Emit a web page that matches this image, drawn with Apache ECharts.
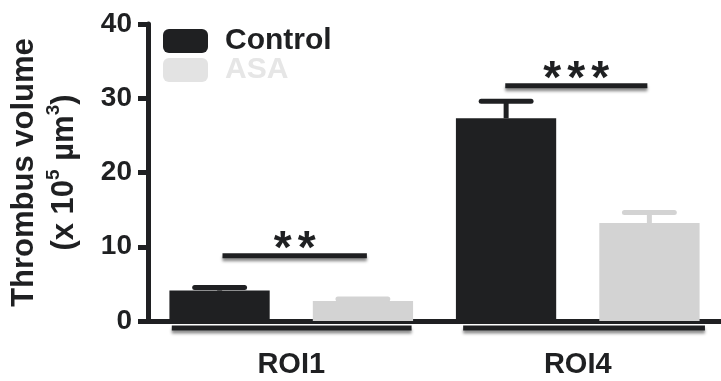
<!DOCTYPE html>
<html><head><meta charset="utf-8">
<script src="https://cdn.jsdelivr.net/npm/echarts@6/dist/echarts.min.js"></script>
<style>html,body{margin:0;padding:0;background:#fff}#c{width:721px;height:381px}</style>
</head><body><div id="c"></div>
<script>
const categories = ['ROI1', 'ROI4'];
const seriesNames = ['Control', 'ASA'];
const controlMean = [4.1, 27.3];
const controlSem = [0.4, 2.3];
const asaMean = [2.7, 13.2];
const asaSem = [0.25, 1.4];
const yTicks = [0, 10, 20, 30, 40];
// significance brackets: [start, end] in category units (0..2), height in y units
const sigStart = [0.26, 1.247];
const sigEnd = [0.764, 1.743];
const sigHeight = [8.8, 31.7];
const sigStars = [2, 3];
// group underlines below axis
const grpStart = [0.083, 1.10];
const grpEnd = [0.92, 1.944];
const grpLevel = [-0.95, -0.95];

const cDark = '#1f2022', cLight = '#d3d3d3';
const FONT = 'Liberation Sans, Arial, sans-serif';

const chart = echarts.init(document.getElementById('c'));

function errItem(color, offset) {
  return function (params, api) {
    const ci = api.value(0), m = api.value(1), e = api.value(2);
    const b = api.coord([ci, m]), t = api.coord([ci, m + e]);
    const band = api.size([1, 0])[0];
    const x = b[0] + offset * band;
    const cw = band * 0.174;
    return { type: 'group', children: [
      { type: 'line', shape: { x1: x, y1: b[1], x2: x, y2: t[1] }, style: { stroke: color, lineWidth: 5 } },
      { type: 'line', shape: { x1: x - cw / 2, y1: t[1], x2: x + cw / 2, y2: t[1] }, style: { stroke: color, lineWidth: 5, lineCap: 'round' } }
    ]};
  };
}

const shadow = { shadowBlur: 3, shadowColor: 'rgba(0,0,0,0.45)', shadowOffsetY: 3 };

chart.setOption({
  animation: false,
  grid: { left: 148, right: -3, top: 24, bottom: 60 },
  legend: {
    left: 163, top: 26, padding: 0, orient: 'vertical', itemWidth: 45, itemHeight: 24, itemGap: -1,
    icon: 'roundRect',
    textStyle: { fontFamily: FONT, fontWeight: 'bold', fontSize: 30, padding: [2, 0, 0, 12] },
    data: [
      { name: 'Control', itemStyle: { color: cDark }, textStyle: { color: cDark } },
      { name: 'ASA', itemStyle: { color: '#e3e3e3' }, textStyle: { color: '#e6e6e6' } }
    ]
  },
  xAxis: [
    { type: 'category', data: categories,
      axisLine: { lineStyle: { color: cDark, width: 5 } },
      axisTick: { show: false },
      axisLabel: { color: cDark, fontFamily: FONT, fontWeight: 'bold', fontSize: 29, margin: 29 } },
    { type: 'value', min: 0, max: 2, show: false }
  ],
  yAxis: {
    type: 'value', min: 0, max: 40, interval: 10,
    name: '{a|Thrombus volume}\n{a|(x 10}{s|5}{a| µm}{s|3}{a|)}',
    nameLocation: 'middle', nameGap: 64,
    nameTextStyle: { color: cDark, align: 'center',
      rich: { a: { fontFamily: FONT, fontWeight: 'bold', fontSize: 31, lineHeight: 40, color: cDark },
              s: { fontFamily: FONT, fontWeight: 'bold', fontSize: 19, lineHeight: 40, verticalAlign: 'top', color: cDark, padding: [0, 0, 12, 0] } } },
    axisLine: { show: true, lineStyle: { color: cDark, width: 5 } },
    axisTick: { show: true, length: 10, lineStyle: { color: cDark, width: 5 } },
    axisLabel: { color: cDark, fontFamily: FONT, fontWeight: 'bold', fontSize: 28, margin: 16 },
    splitLine: { show: false }
  },
  series: [
    { name: 'Control', type: 'bar', data: controlMean, barWidth: '35%', barGap: '43%', itemStyle: { color: cDark } },
    { name: 'ASA', type: 'bar', data: asaMean, barWidth: '35%', barGap: '43%', itemStyle: { color: cLight } },
    { type: 'custom', renderItem: errItem(cDark, -0.25), data: categories.map((c, i) => [i, controlMean[i], controlSem[i]]), z: 3 },
    { type: 'custom', renderItem: errItem(cLight, 0.25), data: categories.map((c, i) => [i, asaMean[i], asaSem[i]]), z: 3 },
    { type: 'custom', xAxisIndex: 1, clip: false, z: 4,
      data: sigStart.map((s, i) => [s, sigEnd[i], sigHeight[i]]),
      renderItem: function (params, api) {
        const a = api.coord([api.value(0), api.value(2)]);
        const b = api.coord([api.value(1), api.value(2)]);
        const n = sigStars[params.dataIndex];
        const cx = (a[0] + b[0]) / 2, pitch = 24;
        const kids = [
          { type: 'line', shape: { x1: a[0], y1: a[1], x2: b[0], y2: b[1] }, style: Object.assign({ stroke: cDark, lineWidth: 5 }, shadow) }
        ];
        for (let k = 0; k < n; k++) {
          kids.push({ type: 'text', x: cx + (k - (n - 1) / 2) * pitch, y: a[1] - 5,
            style: { text: '*', fill: cDark, font: 'bold 46px ' + FONT, textAlign: 'center', textVerticalAlign: 'middle' } });
        }
        return { type: 'group', children: kids };
      } },
    { type: 'custom', xAxisIndex: 1, clip: false, z: 4,
      data: grpStart.map((s, i) => [s, grpEnd[i], grpLevel[i]]),
      renderItem: function (params, api) {
        const a = api.coord([api.value(0), api.value(2)]);
        const b = api.coord([api.value(1), api.value(2)]);
        return { type: 'line', shape: { x1: a[0], y1: a[1], x2: b[0], y2: b[1] }, style: Object.assign({ stroke: cDark, lineWidth: 5 }, shadow) };
      } }
  ]
});
</script></body></html>
